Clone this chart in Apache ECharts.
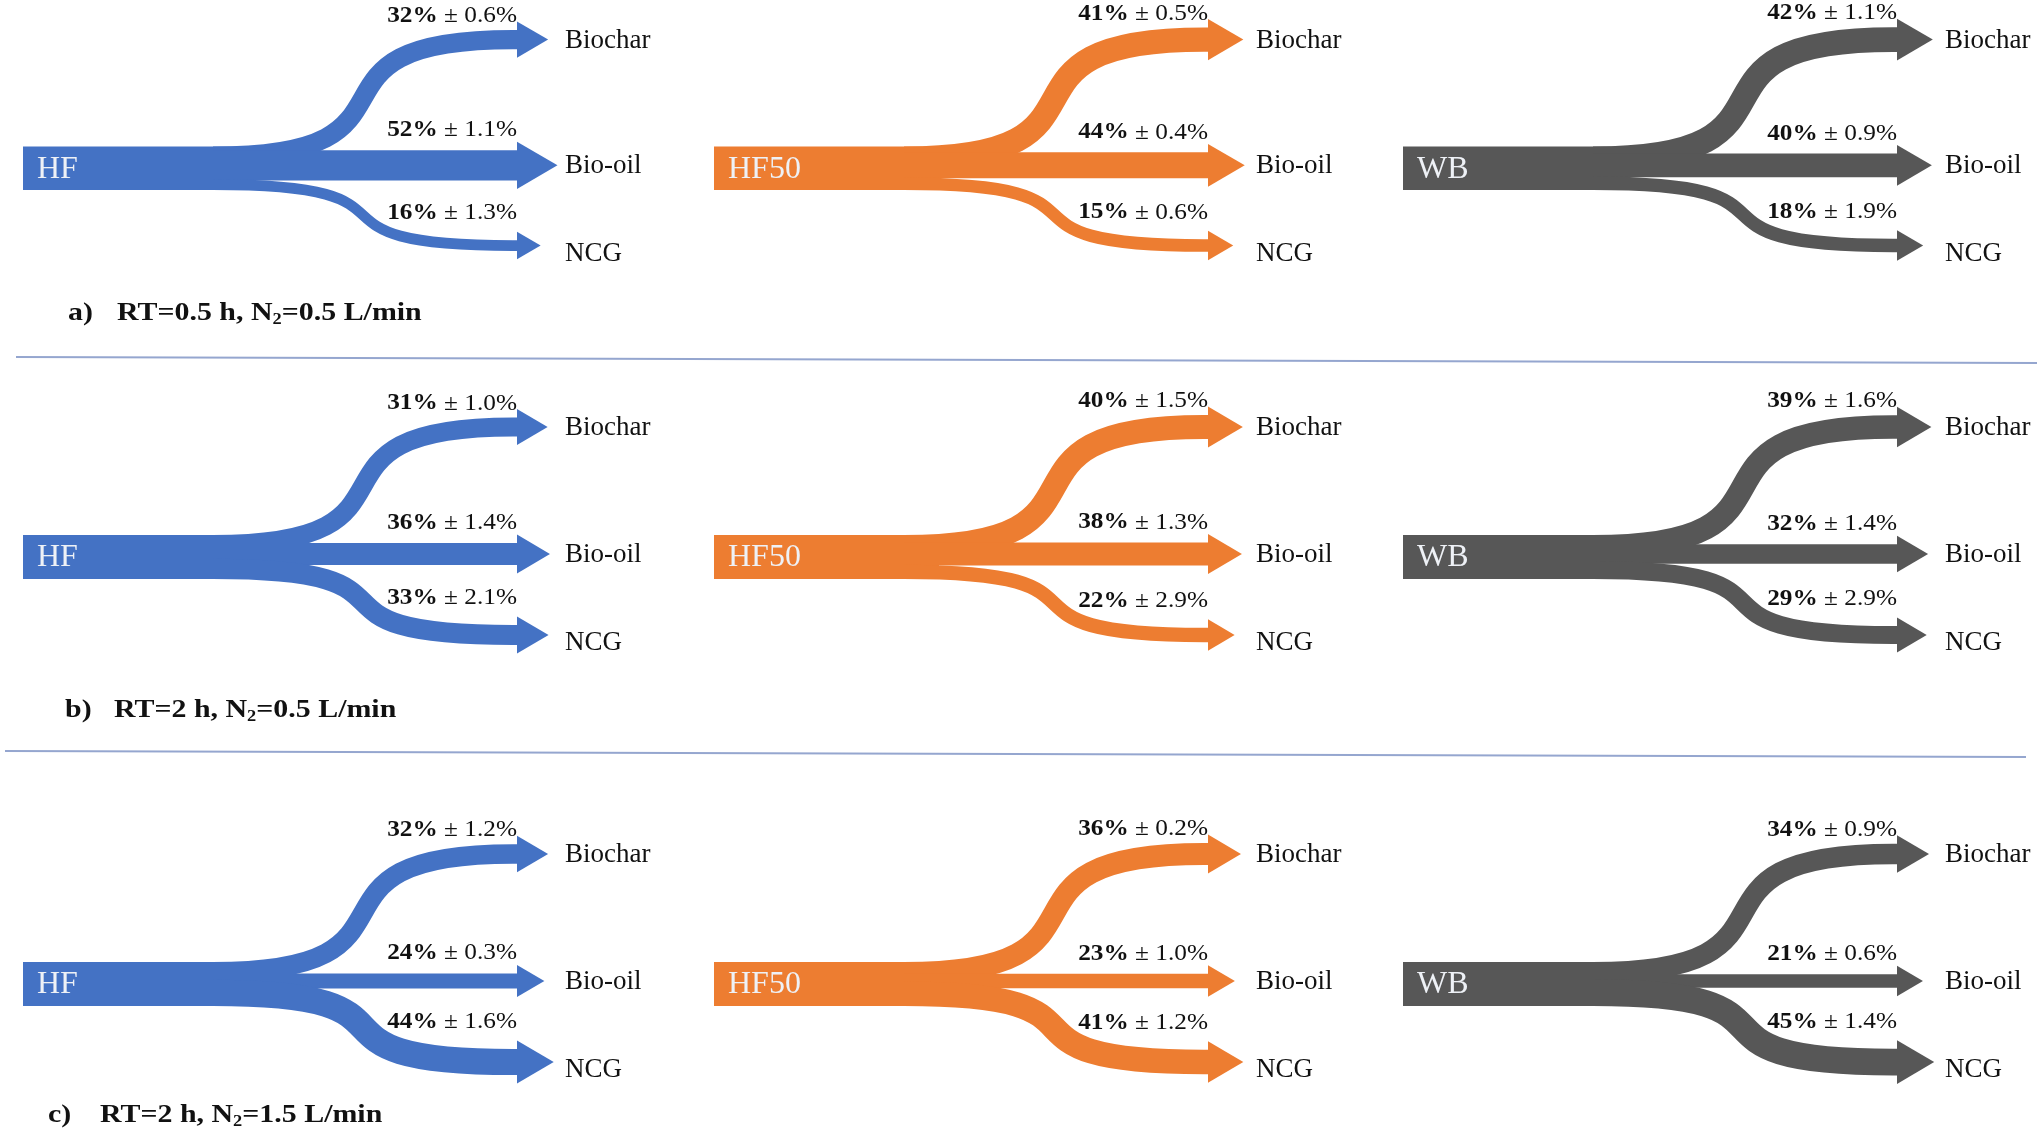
<!DOCTYPE html>
<html>
<head>
<meta charset="utf-8">
<script src="https://cdn.jsdelivr.net/npm/echarts@6/dist/echarts.min.js"></script>
<style>
html,body{margin:0;padding:0;background:#fff;}
#c{width:2043px;height:1136px;}
</style>
</head>
<body>
<div id="c"></div>
<script>
// ---------------- data ----------------
const feedstocks = ['HF', 'HF50', 'WB'];
const products = ['Biochar', 'Bio-oil', 'NCG'];
const rowLetters = ['a)', 'b)', 'c)'];
const conditionParts = [
  ['RT=0.5 h, N', '2', '=0.5 L/min'],
  ['RT=2 h, N', '2', '=0.5 L/min'],
  ['RT=2 h, N', '2', '=1.5 L/min']
];
// yields (%) per feedstock [HF, HF50, WB], each [Biochar, Bio-oil, NCG]
const yieldA = [[32, 52, 16], [41, 44, 15], [42, 40, 18]];
const errA   = [[0.6, 1.1, 1.3], [0.5, 0.4, 0.6], [1.1, 0.9, 1.9]];
const yieldB = [[31, 36, 33], [40, 38, 22], [39, 32, 29]];
const errB   = [[1.0, 1.4, 2.1], [1.5, 1.3, 2.9], [1.6, 1.4, 2.9]];
const yieldC = [[32, 24, 44], [36, 23, 41], [34, 21, 45]];
const errC   = [[1.2, 0.3, 1.6], [0.2, 1.0, 1.2], [0.9, 0.6, 1.4]];

// ---------------- style / layout ----------------
const colors = ['#4472C4', '#ED7D31', '#575757'];
const FONT = "'Liberation Serif', 'Times New Roman', serif";
const colX0 = [23, 714, 1403];
const rowY0 = [167, 557, 984];
const letterX = [68, 65, 48];
const condX = [117, 114, 100];
const labelY = [313, 710, 1115];
// geometry in axis units (1 unit = 1 px)
const END_DY = [-130, -3, 78];
const PCT_OFF = [14, 20, 27];
const NAME_DY = [1, 1, 8];
const SX = 190, EX = 490, HB = 494, PCT_X = 494, NAME_X = 542, RECT_END = 225;

function makeRender(name, color) {
  return function (params, api) {
    const b = api.value(0), pct = api.value(1), err = api.value(2);
    const unit = api.size([0, 1])[1];
    const thick = function (v) { return (api.size([0, v])[1] * 0.55 + 2) / unit; };
    const tU = thick(pct);
    const tBio = thick(api.value(1, 1));
    const srcU = api.size([0, 100])[1] * 0.44 / unit;    // source band (100 %)
    const P = (x, y) => api.coord([x, y]);
    const ey = END_DY[b];
    const children = [];
    if (b === 0) {
      const a = P(0, -srcU / 2), d = P(RECT_END, srcU / 2);
      children.push({type: 'rect', shape: {x: a[0], y: a[1], width: d[0] - a[0], height: d[1] - a[1]},
        style: {fill: color}});
    }
    // band start: biochar hugs the top of the source, NCG the bottom; both reach the bio-oil band
    let sy = ey, w = tU;
    const bioTop = END_DY[1] - tBio / 2, bioBot = END_DY[1] + tBio / 2;
    if (b === 0) {
      const top = -srcU / 2, bot = Math.max(top + tU, bioTop + 0.8);
      w = bot - top; sy = (top + bot) / 2;
    } else if (b === 2) {
      const bot = srcU / 2, top = Math.min(bot - tU, bioBot - 0.8);
      w = bot - top; sy = (top + bot) / 2;
    }
    const k = 0.78 * (EX - SX);
    const p0 = P(SX, sy), p1 = P(SX + k, sy), p2 = P(EX - k, ey), p3 = P(EX, ey), p4 = P(HB + 1, ey);
    const pd = 'M' + p0[0] + ' ' + p0[1] + ' C' + p1[0] + ' ' + p1[1] + ' ' + p2[0] + ' ' + p2[1] + ' ' +
      p3[0] + ' ' + p3[1] + ' L' + p4[0] + ' ' + p4[1];
    children.push({type: 'path', shape: {pathData: pd},
      style: {fill: 'none', stroke: color, lineWidth: w * unit, lineCap: 'butt'}});
    const hh = w / 2 + 8.5;
    const len = hh * 2 * 0.85;
    children.push({type: 'polygon', shape: {points: [P(HB, ey - hh), P(HB + len, ey), P(HB, ey + hh)]},
      style: {fill: color}});
    const q = P(PCT_X, ey - w / 2 - PCT_OFF[b]);
    children.push({type: 'text', x: q[0], y: q[1], scaleX: 1.1,
      style: {text: '{b|' + pct + '%}{r| \u00b1 ' + err.toFixed(1) + '%}', align: 'right', verticalAlign: 'middle',
        fill: '#111', rich: {
          b: {fontFamily: FONT, fontSize: 23, fontWeight: 'bold', fill: '#111'},
          r: {fontFamily: FONT, fontSize: 23, fill: '#111'}
        }}});
    const n = P(NAME_X, ey + NAME_DY[b]);
    children.push({type: 'text', x: n[0], y: n[1],
      style: {text: products[b], fontFamily: FONT, fontSize: 27, fill: '#111', align: 'left', verticalAlign: 'middle'}});
    if (b === 0) {
      const s = P(14, 1);
      children.push({type: 'text', x: s[0], y: s[1],
        style: {text: name, fontFamily: FONT, fontSize: 32, fill: '#EEF1F6', align: 'left', verticalAlign: 'middle'}});
    }
    return {type: 'group', children: children};
  };
}

const grids = [], xAxes = [], yAxes = [], series = [];
const rows = [[yieldA, errA], [yieldB, errB], [yieldC, errC]];
rows.forEach(function (pair, r) {
  const Y = pair[0], E = pair[1];
  feedstocks.forEach(function (fs, c) {
    const i = r * 3 + c;
    grids.push({left: colX0[c], top: rowY0[r] - 170, width: 600, height: 300});
    xAxes.push({type: 'value', gridIndex: i, min: 0, max: 600, show: false});
    yAxes.push({type: 'value', gridIndex: i, min: -170, max: 130, inverse: true, show: false});
    series.push({type: 'custom', coordinateSystem: 'cartesian2d', xAxisIndex: i, yAxisIndex: i,
      silent: true, animation: false, clip: false,
      data: products.map(function (p, b) { return [b, Y[c][b], E[c][b]]; }),
      renderItem: makeRender(fs, colors[c])});
  });
});

const graphic = [
  {type: 'line', shape: {x1: 16, y1: 357, x2: 2037, y2: 363}, style: {stroke: '#95A6CF', lineWidth: 2}},
  {type: 'line', shape: {x1: 5, y1: 751, x2: 2026, y2: 757}, style: {stroke: '#95A6CF', lineWidth: 2}}
];
rowLetters.forEach(function (L, r) {
  graphic.push({type: 'text', x: letterX[r], y: labelY[r], scaleX: 1.15,
    style: {text: L, fontFamily: FONT, fontSize: 26, fontWeight: 'bold', fill: '#111', align: 'left', verticalAlign: 'middle'}});
  const cp = conditionParts[r];
  graphic.push({type: 'text', x: condX[r], y: labelY[r], scaleX: 1.15,
    style: {text: '{t|' + cp[0] + '}{s|' + cp[1] + '}{t|' + cp[2] + '}', align: 'left', verticalAlign: 'middle',
      rich: {
        t: {fontFamily: FONT, fontSize: 26, fontWeight: 'bold', fill: '#111', lineHeight: 30},
        s: {fontFamily: FONT, fontSize: 16, fontWeight: 'bold', fill: '#111', verticalAlign: 'bottom'}
      }}});
});

const chart = echarts.init(document.getElementById('c'));
chart.setOption({
  backgroundColor: '#ffffff',
  animation: false,
  grid: grids, xAxis: xAxes, yAxis: yAxes,
  series: series,
  graphic: graphic
});
</script>
</body>
</html>
